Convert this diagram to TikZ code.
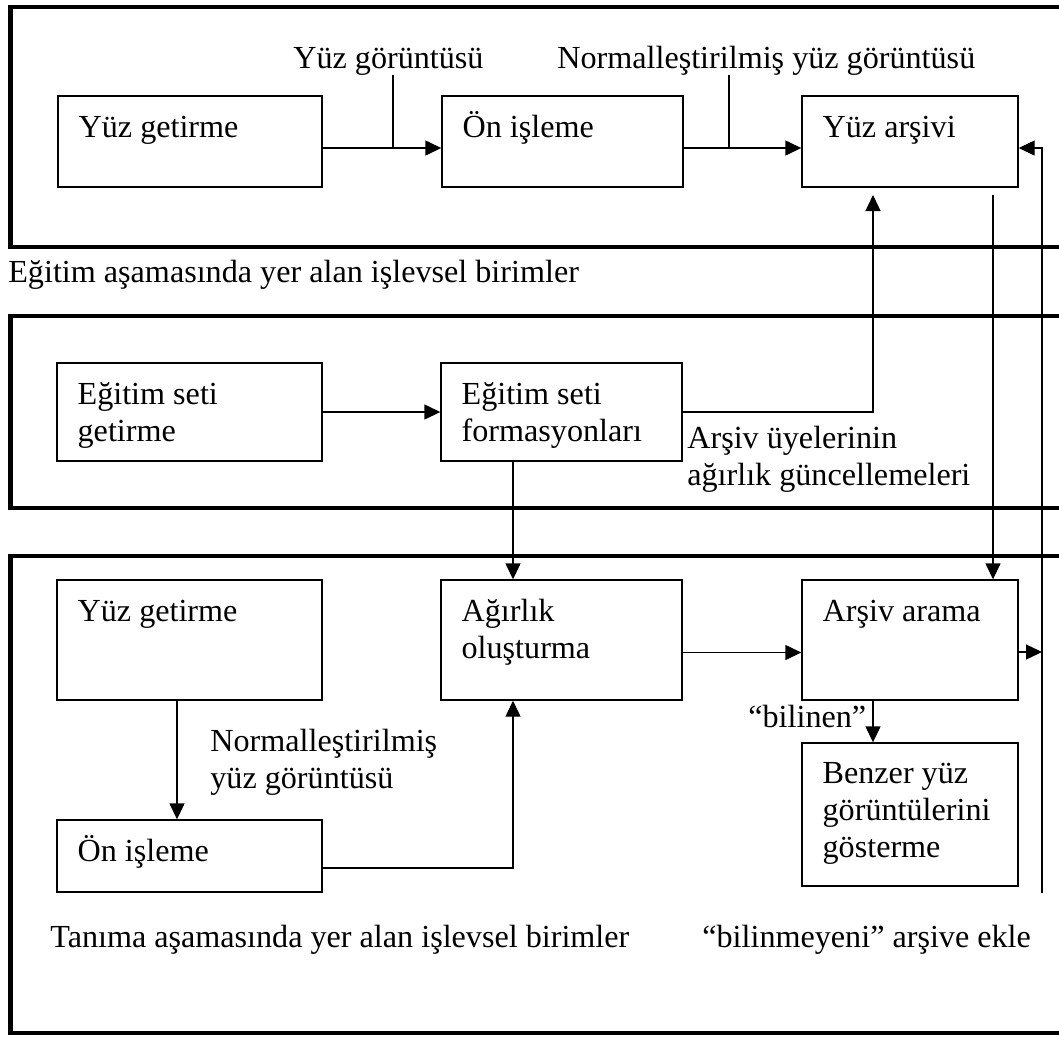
\documentclass[tikz,border=0pt]{standalone}
\usepackage{fontspec}
\setmainfont{Liberation Serif}
\usepackage{tikz}
\usetikzlibrary{arrows.meta, positioning, calc, fit}

\tikzset{
  panel/.style={line width=0.09cm, line join=miter},
  kutu/.style={draw, line width=0.8pt, inner sep=0pt},
  yazi/.style={inner sep=0pt, anchor=base west, align=left, font=\fontsize{18.3pt}{21pt}\selectfont},
  ok/.style={-{Triangle[length=0.32cm,width=0.3cm]}, line width=0.8pt},
  cizgi/.style={line width=0.8pt}
}

\begin{document}
\begin{tikzpicture}[x=0.02cm, y=-0.02cm]
        \useasboundingbox (0,0) rectangle (1059,1036);
        % Panels (open to the right)
        \draw[panel] (1075,7) -- (10.5,7) -- (10.5,247) -- (1075,247);
        \draw[panel] (1075,316) -- (10.5,316) -- (10.5,508) -- (1075,508);
        \draw[panel] (1075,556) -- (10.5,556) -- (10.5,1033) -- (1075,1033);
        % Training: top row
        \node[kutu, fit={(58,96) (322,187)}] (A1) {};
        \node[kutu, fit={(442,96) (683,187)}] (A2) {};
        \node[kutu, fit={(802,96) (1018,187)}] (A3) {};
        \node[yazi] (A1t) at ($(A1.north west)+(21,42)$) {Yüz getirme};
        \node[yazi] (A2t) at ($(A2.north west)+(21,42)$) {Ön işleme};
        \node[yazi] (A3t) at ($(A3.north west)+(21,42)$) {Yüz arşivi};
        % Training: set (base = last line)
        \node[kutu, fit={(57,363) (322,461)}] (B1) {};
        \node[kutu, fit={(441,363) (682,461)}] (B2) {};
        \node[yazi] (B1t) at ($(B1.north west)+(21,79)$) {Eğitim seti\\getirme};
        \node[yazi] (B2t) at ($(B2.north west)+(21,79)$) {Eğitim seti\\formasyonları};
        % Recognition
        \node[kutu, fit={(57,580) (322,700)}] (C1) {};
        \node[kutu, fit={(57,820) (322,892)}] (C2) {};
        \node[kutu, fit={(441,580) (682,700)}] (C3) {};
        \node[kutu, fit={(802,580) (1018,700)}] (C4) {};
        \node[kutu, fit={(802,743) (1018,886)}] (C5) {};
        \node[yazi] (C1t) at ($(C1.north west)+(21,42)$) {Yüz getirme};
        \node[yazi] (C2t) at ($(C2.north west)+(21,42)$) {Ön işleme};
        \node[yazi] (C3t) at ($(C3.north west)+(21,79)$) {Ağırlık\\oluşturma};
        \node[yazi] (C4t) at ($(C4.north west)+(21,42)$) {Arşiv arama};
        \node[yazi] (C5t) at ($(C5.north west)+(21,115)$) {Benzer yüz\\görüntülerini\\gösterme};
        % Labels
        \node[yazi] (L1) at (293,68) {Yüz görüntüsü};
        \node[yazi] (L2) at (557,68) {Normalleştirilmiş yüz görüntüsü};
        \node[yazi] (L3) at (8,282) {Eğitim aşamasında yer alan işlevsel birimler};
        \node[yazi] (L4) at (687,485) {Arşiv üyelerinin\\ağırlık güncellemeleri};
        \node[yazi] (L5) at (210,788) {Normalleştirilmiş\\yüz görüntüsü};
        \node[yazi] (L6) at (748,727) {“bilinen”};
        \node[yazi] (L7) at (50,947) {Tanıma aşamasında yer alan işlevsel birimler};
        \node[yazi] (L8) at (702,947) {“bilinmeyeni” arşive ekle};
        % Helper points
        \coordinate (t1) at (393,148);
        \coordinate (t2) at (729,148);
        \coordinate (u1) at (873,195);
        \coordinate (s1) at (993,195);
        \coordinate (r1) at (1042,893);
        \coordinate (r2) at (1042,652);
        % Top row arrows
        \draw[ok] ($(A1.east)+(0,6.5)$) -- ($(A2.west)+(0,6.5)$);
        \draw[ok] ($(A2.east)+(0,6.5)$) -- ($(A3.west)+(0,6.5)$);
        \draw[cizgi] (t1 |- L1.south) -- (t1);
        \draw[cizgi] (t2 |- L2.south) -- (t2);
        % Training set arrows
        \draw[ok] (B1.east) -- (B2.west);
        \draw[ok] (B2.east) -| (u1);
        \draw[ok] ($(B2.south)+(-48.5,0)$) -- ($(C3.north)+(-48.5,0)$);
        \draw[ok] (s1) -- (s1 |- C4.north);
        % Recognition arrows
        \draw[ok] ($(C1.south)+(-12.5,0)$) -- ($(C2.north)+(-12.5,0)$);
        \draw[ok] ($(C2.east)+(0,12)$) -| ($(C3.south)+(-48.5,0)$);
        \draw[ok] ($(C3.east)+(0,12.5)$) -- ($(C4.west)+(0,12.5)$);
        \draw[ok] ($(C4.south)+(-37,0)$) -- ($(C5.north)+(-37,0)$);
        \draw[ok] ($(C4.east)+(0,12)$) -- (r2);
        \draw[ok] (r1) |- ($(A3.east)+(0,6.5)$);
\end{tikzpicture}
\end{document}
